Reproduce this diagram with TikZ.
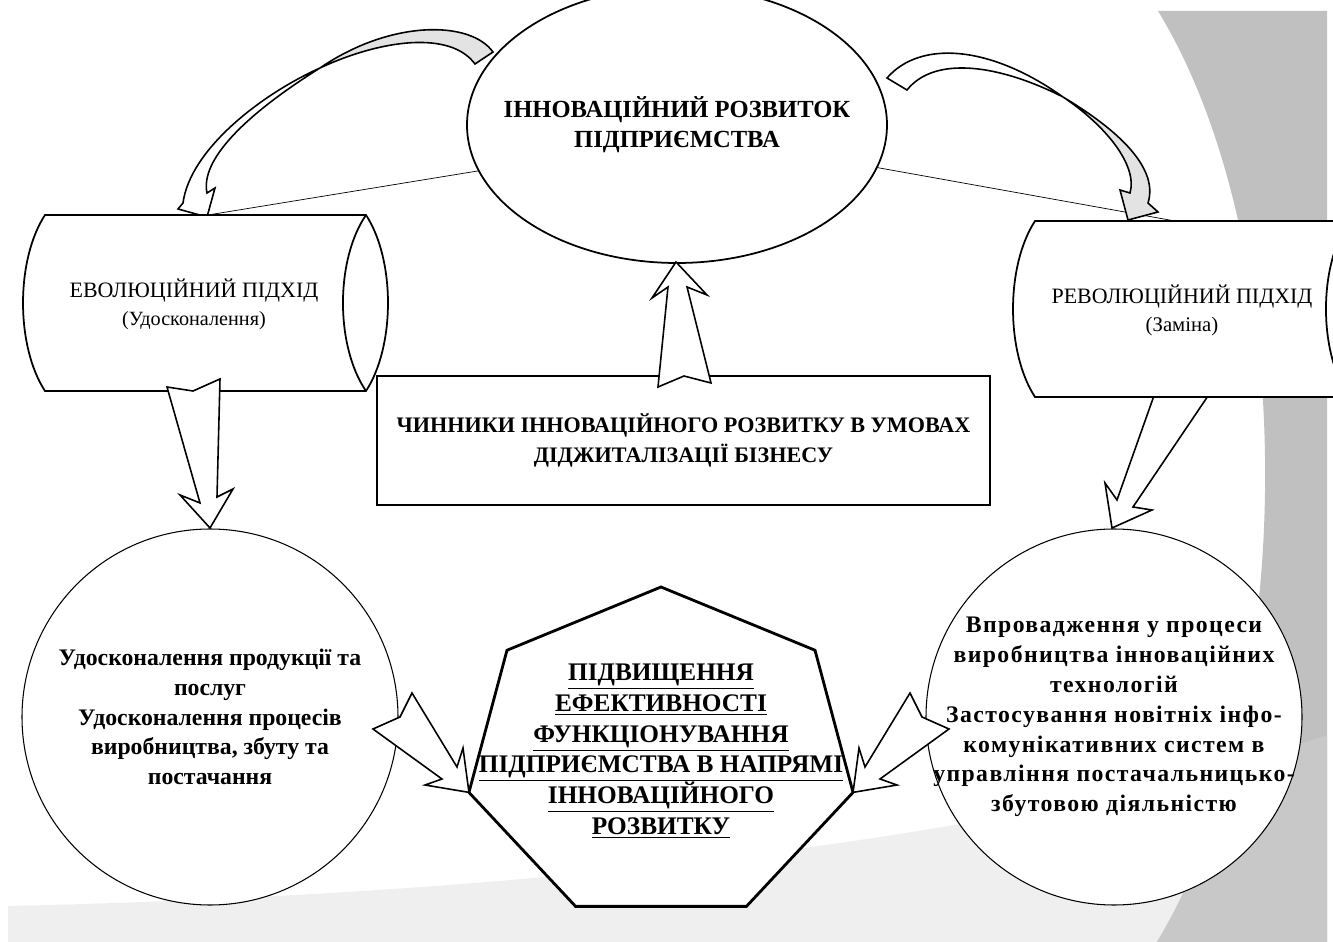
\documentclass[tikz,border=0pt]{standalone}
\usepackage{fontspec}
\setmainfont{Liberation Serif}
\usetikzlibrary{shapes.geometric,calc}
\definecolor{shadeA}{HTML}{C0C0C0}
\definecolor{shadeB}{HTML}{EFEFEF}
\definecolor{shadeC}{HTML}{C8C8C8}
\definecolor{twist}{HTML}{E3E3E3}
\newcommand\pxu{0.02cm}
\tikzset{
  blockarrow/.style={draw=black, line width=0.9pt, fill=white, line join=miter},
  thinlink/.style={draw=black, line width=0.4pt},
  drumline/.style={draw=black, line width=1pt, fill=white},
  bubble/.style={circle, draw, line width=0.6pt, fill=white, minimum size=376*\pxu, inner sep=0pt},
  boldtext/.style={align=center, inner sep=0pt, font={\fontsize{13.5}{17}\selectfont\bfseries}},
  drumtext/.style={align=center, inner sep=0pt, font={\fontsize{12.5}{16}\selectfont}},
}
\begin{document}
\begin{tikzpicture}[x=\pxu, y=-\pxu]
    \useasboundingbox (0,0) rectangle (1333,942);

    % background
    \fill[shadeB] (8,942) -- (8,906) .. controls (500,895) and (1000,845) .. (1327,735) -- (1327,942) -- cycle;
    \fill[shadeA] (1157,942) .. controls (1301,705) and (1301,245) .. (1158,11) -- (1327,11) -- (1327,942) -- cycle;
    \begin{scope}
        \clip (1157,942) .. controls (1301,705) and (1301,245) .. (1158,11) -- (1327,11) -- (1327,942) -- cycle;
        \fill[shadeC] (8,942) -- (8,906) .. controls (500,895) and (1000,845) .. (1327,735) -- (1327,942) -- cycle;
    \end{scope}

    % top ellipse
    \node[ellipse, draw, line width=1pt, fill=white, minimum width=420*\pxu, minimum height=276*\pxu] (top) at (677,125) {};
    \node[boldtext, font={\fontsize{14}{17}\selectfont\bfseries}] (toptext) at (top.center)
        {ІННОВАЦІЙНИЙ РОЗВИТОК\\ПІДПРИЄМСТВА};

    % thin links
    \coordinate (evotop) at (208,215);
    \coordinate (revotop) at (1175,221);
    \draw[thinlink] (top.193) -- (evotop);
    \draw[thinlink] (top.-12) -- (revotop);

    % curved arrows
    \filldraw[blockarrow, fill=twist] (493,52) .. controls (470,20) and (390,20) .. (320,68)
        .. controls (380,40) and (450,30) .. (475,64) -- cycle;
    \filldraw[blockarrow] (320,68) .. controls (260,95) and (190,150) .. (183,203) -- (178,209) -- (207,217)
        -- (215,188) -- (207,193) .. controls (200,160) and (245,115) .. (320,68) -- cycle;
    \filldraw[blockarrow] (887,78) .. controls (920,40) and (990,45) .. (1063,97)
        .. controls (1000,65) and (935,55) .. (907,90) -- cycle;
    \filldraw[blockarrow, fill=twist] (1063,97) .. controls (1110,125) and (1160,165) .. (1148,203) -- (1158,212)
        -- (1128,220) -- (1120,190) -- (1130,193) .. controls (1138,165) and (1105,125) .. (1063,97) -- cycle;

    % left drum
    \filldraw[drumline] (45,215) -- (366,215) .. controls (395.3,260) and (395.3,346) .. (366,391)
        -- (45,391) .. controls (15.7,346) and (15.7,260) .. (45,215) -- cycle;
    \draw[drumline] (366,215) .. controls (335.3,260) and (335.3,346) .. (366,391);
    \node[drumtext] (evo) at (194,304)
        {ЕВОЛЮЦІЙНИЙ ПІДХІД\\{\fontsize{11.5}{13}\selectfont(Удосконалення)}};

    % right down arrow (behind the drum)
    \filldraw[blockarrow] (1156,390) -- (1117,500) -- (1105,483) -- (1112,528) -- (1152,510)
        -- (1133,507) -- (1212,390) -- (1184,385) -- cycle;

    % right drum
    \filldraw[drumline] (1035,221) -- (1349,221) .. controls (1378.3,266) and (1378.3,352) .. (1349,397)
        -- (1035,397) .. controls (1005.7,352) and (1005.7,266) .. (1035,221) -- cycle;
    \draw[drumline] (1349,221) .. controls (1318.3,266) and (1318.3,352) .. (1349,397);
    \node[drumtext] (revo) at (1182,310)
        {РЕВОЛЮЦІЙНИЙ ПІДХІД\\{\fontsize{11.8}{13}\selectfont(Заміна)}};

    % left down arrow
    \filldraw[blockarrow] (167,387) -- (200,503) -- (180,495) -- (210,528) -- (233,489)
        -- (217,497) -- (220,379) -- (193,391) -- cycle;

    % factors box and up arrow
    \node[draw, line width=1pt, fill=white, minimum width=613*\pxu, minimum height=129*\pxu,
        align=center, font={\fontsize{12.6}{17}\selectfont\bfseries}] (factors) at (683.5,440.5)
        {ЧИННИКИ ІННОВАЦІЙНОГО РОЗВИТКУ В УМОВАХ\\ДІДЖИТАЛІЗАЦІЇ БІЗНЕСУ};
    \filldraw[blockarrow] (658,387) -- (668,287) -- (652,298) -- (676,262) -- (707,295)
        -- (687,287) -- (711,383) -- (684,376) -- cycle;

    % circles
    \node[bubble] (impr) at (210,717) {};
    \node[boldtext] (imprtext) at (impr.center)
        {Удосконалення продукції та\\послуг\\Удосконалення процесів\\виробництва, збуту та\\постачання};
    \node[bubble] (tech) at (1114,717) {};
    \node[boldtext, font={\fontsize{13.5}{17}\selectfont\bfseries\addfontfeature{LetterSpace=6}}] (techtext) at (tech.center)
        {Впровадження у процеси\\виробництва інноваційних\\технологій\\Застосування новітніх інфо-\\комунікативних систем в\\управління постачальницько-\\збутовою діяльністю};

    % heptagon
    \coordinate (hc) at (661,755);
    \foreach \i in {0,...,6}
        \coordinate (h\i) at ($(hc)+({197*cos(90+\i*360/7)},{-168*sin(90+\i*360/7)})$);
    \filldraw[draw=black, line width=1.6pt, fill=white] (h0) \foreach \i in {1,...,6}{ -- (h\i)} -- cycle;
    \node[boldtext, font={\fontsize{14.4}{17.5}\selectfont\bfseries}] (goal) at (661,751)
        {\underline{ПІДВИЩЕННЯ}\\\underline{ЕФЕКТИВНОСТІ}\\\underline{ФУНКЦІОНУВАННЯ}\\
         \underline{ПІДПРИЄМСТВА В НАПРЯМІ}\\\underline{ІННОВАЦІЙНОГО}\\\underline{РОЗВИТКУ}};

    % side arrows
    \filldraw[blockarrow] (412,693) -- (457,767) -- (463,748) -- (h2) -- (425,785)
        -- (442,779) -- (373,729) -- (400,717) -- cycle;
    \filldraw[blockarrow] (910,693) -- (865,767) -- (859,748) -- (h5) -- (897,785)
        -- (880,779) -- (949,729) -- (922,717) -- cycle;
\end{tikzpicture}
\end{document}
